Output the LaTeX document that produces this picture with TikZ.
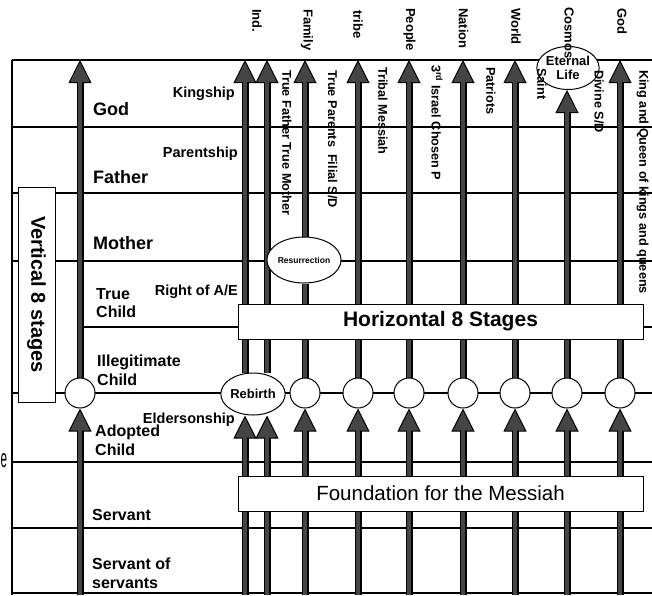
\documentclass[tikz,border=0pt]{standalone}
\usepackage{fontspec}
\setmainfont{Liberation Sans}
\usetikzlibrary{arrows.meta,shapes.geometric}
\pgfdeclarelayer{bg}
\pgfsetlayers{bg,main}
\definecolor{arrowgray}{gray}{0.27}
\begin{document}
\begin{tikzpicture}[x=1pt,y=-1pt,
  hline/.style={line width=1.1pt, draw=black},
  barrow/.style={line width=7pt, draw=black,
    -{Triangle[length=23pt,width=23pt,line width=1pt,fill=arrowgray]},
    postaction={draw=arrowgray, line width=4.6pt, arrows=-, shorten >=21pt}},
  bshaft/.style={line width=7pt, draw=black,
    postaction={draw=arrowgray, line width=4.6pt}},
  circ/.style={circle, draw, fill=white, line width=1pt, minimum size=30pt, inner sep=0pt},
  ellnode/.style={ellipse, draw, fill=white, line width=1pt, inner sep=0pt},
  box/.style={rectangle, draw, fill=white, line width=1pt, inner sep=0pt},
  rowlab/.style={font=\bfseries\fontsize{18}{21}\selectfont, inner sep=0pt, anchor=base west},
  rowlabs/.style={font=\bfseries\fontsize{16}{18.3}\selectfont, inner sep=0pt, align=left},
  sidelab/.style={font=\bfseries\fontsize{14.5}{17}\selectfont, inner sep=0pt, anchor=base east},
  collab/.style={font=\bfseries\fontsize{13}{15}\selectfont, inner sep=0pt, rotate=-90, anchor=west},
  inlab/.style={font=\bfseries\fontsize{12.7}{15}\selectfont, inner sep=0pt, rotate=-90, anchor=west}
]
\useasboundingbox (0,0) rectangle (652,595);

% ---- circles and ellipses on the stage line
\node[circ] (c0) at (80,393) {};
\node[ellnode, minimum width=62pt, minimum height=42pt,
      font=\bfseries\fontsize{13}{15}\selectfont] (reb) at (253,394) {Rebirth};
\foreach \n/\x in {3/305,4/358,5/409,6/463,7/515,8/567,9/620}
  \node[circ] (c\n) at (\x,393) {};
\node[ellnode, minimum width=57pt, minimum height=46pt,
      font=\bfseries\fontsize{8.5}{10}\selectfont] (res) at (304,260) {Resurrection};
\node[ellnode, minimum width=54pt, minimum height=43pt, align=center,
      font=\bfseries\fontsize{13}{13.5}\selectfont] (eter) at (568,68) {Eternal\\Life};

% ---- end coordinates of arrows
\foreach \n/\x in {0/80,1/245,2/267,3/305,4/358,5/409,6/463,7/515,8/567,9/620}{
  \coordinate (t\n) at (\x,60);
  \coordinate (b\n) at (\x,595);
}

% ---- boxes
\node[box, minimum width=405pt, minimum height=35pt,
      font=\bfseries\fontsize{21}{24}\selectfont] (hbox) at (440.5,321.5) {Horizontal 8 Stages};
\node[box, minimum width=405pt, minimum height=35pt,
      font=\fontsize{20.5}{24}\selectfont] (fbox) at (440.5,493.5) {Foundation for the Messiah};
\node[box, rotate=-90, minimum width=215pt, minimum height=37pt,
      font=\bfseries\fontsize{20}{24}\selectfont] (vbox) at (36.5,294.5) {Vertical 8 stages};

% ---- grid lines and arrows behind
\begin{pgfonlayer}{bg}
  \coordinate (fl) at (12,60);
  \coordinate (flb) at (12,595);
  \draw[hline] (fl) -- (flb);
  \foreach \y in {60,127,193,261,393,462,528,593}
    \draw[hline] (12,\y) -- (652,\y);
  \draw[hline] (80,327) -- (652,327);

  % upper arrows
  \draw[barrow] (c0.north) -- (t0);
  \draw[barrow] (reb.north -| t1) -- (t1);
  \draw[barrow] (reb.north -| t2) -- (t2);
  \draw[barrow] (res.north -| t3) -- (t3);
  \draw[bshaft] (c3.north) -- (res.south -| c3);
  \draw[barrow] (c4.north) -- (t4);
  \draw[barrow] (c5.north) -- (t5);
  \draw[barrow] (c6.north) -- (t6);
  \draw[barrow] (c7.north) -- (t7);
  \draw[barrow] (c8.north) -- (eter.south -| c8);
  \draw[barrow] (c9.north) -- (t9);

  % lower arrows
  \draw[barrow] (b0) -- (c0.south);
  \draw[barrow] (b1) -- (reb.south -| b1);
  \draw[barrow] (b2) -- (reb.south -| b2);
  \foreach \n in {3,4,5,6,7,8,9}
    \draw[barrow] (b\n) -- (c\n.south);
\end{pgfonlayer}

% ---- row labels
\node[rowlab] (lgod) at (93,115) {God};
\node[rowlab] (lfat) at (93,183) {Father};
\node[rowlab] (lmot) at (93,249) {Mother};
\node[rowlabs, anchor=north west] (ltc) at (96,288) {True\\Child};
\node[rowlabs, anchor=north west] (lic) at (97,355) {Illegitimate\\Child};
\node[rowlabs, anchor=north west] (lac) at (95,425) {Adopted\\Child};
\node[rowlabs, anchor=base west] (lser) at (92,520) {Servant};
\node[rowlabs, anchor=north west] (lsos) at (92,558) {Servant of\\servants};

% ---- side labels
\node[sidelab] (lking) at (235,97) {Kingship};
\node[sidelab] (lpar) at (238,157) {Parentship};
\node[sidelab] (lright) at (238,295) {Right of A/E};
\node[sidelab] (lelder) at (235,423.5) {Eldersonship};

% ---- column labels
\node[collab] (kind) at (257,9) {Ind.};
\node[collab] (kfam) at (307,9) {Family};
\node[collab] (ktri) at (358,10) {tribe};
\node[collab] (kpeo) at (409.5,8) {People};
\node[collab] (knat) at (463.5,8) {Nation};
\node[collab] (kwor) at (516,8) {World};
\node[collab] (kcos) at (569,7) {Cosmos};
\node[collab] (kgod) at (622,8) {God};

% ---- inner vertical labels
\node[inlab] (itf) at (287,70) {True Father True Mother};
\node[inlab] (itp) at (332.5,70) {True Parents~~Filial S/D};
\node[inlab] (itm) at (383,67) {Tribal Messiah};
\node[inlab] (iis) at (437,65) {3\textsuperscript{rd} Israel Chosen P};
\node[inlab] (ipa) at (491,67) {Patriots};
\node[inlab] (isa) at (542,68) {Saint};
\node[inlab] (ids) at (599,70) {Divine S/D};
\node[inlab] (ikq) at (642.5,70) {King and Queen of kings and queens};

% ---- stray letter at left margin (narrowed to stay inside the page)
\node[font=\fontsize{26}{30}\selectfont, inner sep=0pt, xscale=0.45, anchor=base west] (estray) at (0.5,467) {e};
\end{tikzpicture}
\end{document}
